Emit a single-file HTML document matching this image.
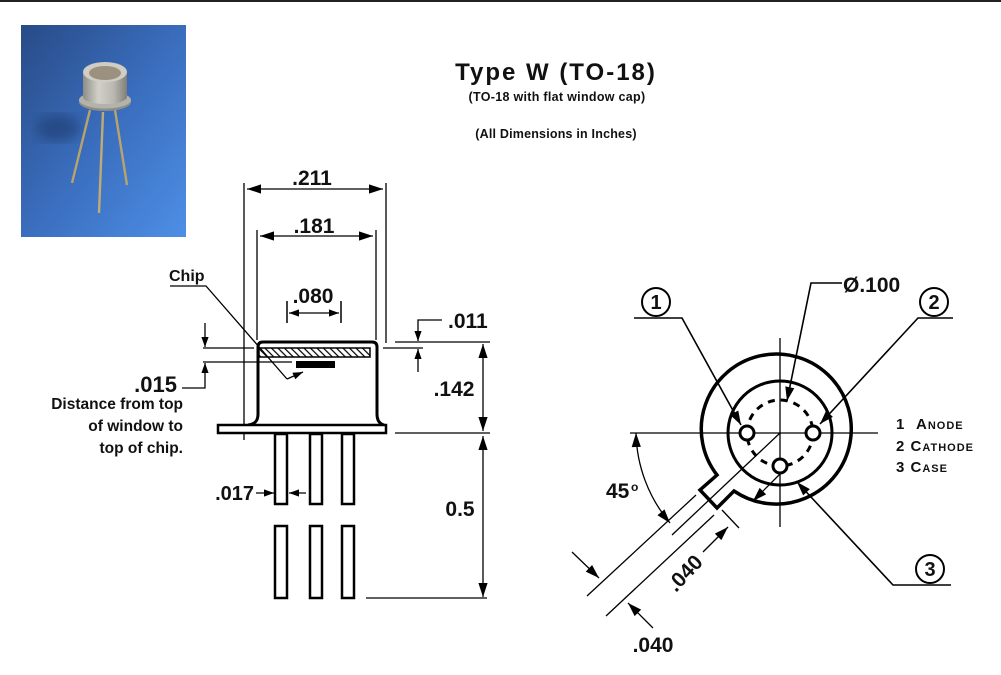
<!DOCTYPE html>
<html><head><meta charset="utf-8"><style>
html,body{margin:0;padding:0;background:#fff;}
svg{display:block;}
text{font-family:"Liberation Sans",sans-serif;font-weight:bold;fill:#111;}
</style></head><body>
<svg width="1001" height="675" viewBox="0 0 1001 675" xmlns="http://www.w3.org/2000/svg">
<defs>
<marker id="a" markerUnits="userSpaceOnUse" markerWidth="18" markerHeight="16" viewBox="-16 -8 18 16" refX="0" refY="0" orient="auto-start-reverse">
<path d="M0,0 L-14,-4.6 L-14,4.6 Z" fill="#000"/>
</marker>
<marker id="s" markerUnits="userSpaceOnUse" markerWidth="14" markerHeight="12" viewBox="-12 -6 14 12" refX="0" refY="0" orient="auto-start-reverse">
<path d="M0,0 L-10,-3.6 L-10,3.6 Z" fill="#000"/>
</marker>
<pattern id="h" patternUnits="userSpaceOnUse" width="4.6" height="4.6" patternTransform="rotate(-45)">
<line x1="1" y1="-1" x2="1" y2="6" stroke="#000" stroke-width="1.2"/>
</pattern>
<linearGradient id="bg" x1="0" y1="0" x2="1" y2="1">
<stop offset="0" stop-color="#284b86"/>
<stop offset="0.5" stop-color="#3a6dbd"/>
<stop offset="1" stop-color="#4d8fe6"/>
</linearGradient>
<linearGradient id="metal" x1="0" y1="0" x2="1" y2="0">
<stop offset="0" stop-color="#8d8c86"/>
<stop offset="0.35" stop-color="#d2d1c9"/>
<stop offset="0.7" stop-color="#b9b8b0"/>
<stop offset="1" stop-color="#7f7e78"/>
</linearGradient>
<filter id="blur"><feGaussianBlur stdDeviation="6"/></filter>
</defs>

<rect x="0" y="0" width="1001" height="2" fill="#222"/>

<!-- photo -->
<rect x="21" y="25" width="165" height="212" fill="url(#bg)"/>
<ellipse cx="58" cy="128" rx="22" ry="13" fill="#1d3a6c" opacity="0.6" filter="url(#blur)"/>
<line x1="90" y1="110" x2="72" y2="183" stroke="#b9a36a" stroke-width="2.4"/>
<line x1="103" y1="112" x2="99" y2="213" stroke="#c2ab70" stroke-width="2.4"/>
<line x1="115" y1="110" x2="127" y2="185" stroke="#b9a36a" stroke-width="2.4"/>
<ellipse cx="105" cy="102" rx="26" ry="9" fill="#8e8d87"/>
<ellipse cx="105" cy="100" rx="26" ry="8.5" fill="#b4b3ab"/>
<rect x="83" y="72" width="44" height="25" fill="url(#metal)"/>
<ellipse cx="105" cy="97" rx="22" ry="7" fill="url(#metal)"/>
<ellipse cx="105" cy="72" rx="22" ry="10" fill="#cfcdc4"/>
<ellipse cx="105" cy="73" rx="16" ry="7" fill="#9c917f"/>

<!-- titles -->
<text x="556" y="80" font-size="24" text-anchor="middle" letter-spacing="2">Type W (TO-18)</text>
<text x="557" y="101" font-size="12.5" text-anchor="middle" letter-spacing="0.3">(TO-18 with flat window cap)</text>
<text x="556" y="138" font-size="12.5" text-anchor="middle" letter-spacing="0.2">(All Dimensions in Inches)</text>

<!-- LEFT VIEW -->
<g stroke="#000" fill="none" stroke-width="1.3">
<line x1="244" y1="183" x2="244" y2="440"/>
<line x1="386" y1="183" x2="386" y2="343"/>
<line x1="257" y1="230" x2="257" y2="340"/>
<line x1="376" y1="230" x2="376" y2="340"/>
<line x1="247" y1="189" x2="383" y2="189" marker-start="url(#a)" marker-end="url(#a)"/>
<line x1="260" y1="236" x2="373" y2="236" marker-start="url(#a)" marker-end="url(#a)"/>
<line x1="287" y1="301" x2="287" y2="323" stroke-width="1.5"/>
<line x1="341" y1="301" x2="341" y2="323" stroke-width="1.5"/>
<line x1="289" y1="313" x2="339" y2="313" marker-start="url(#s)" marker-end="url(#s)"/>
<!-- chip leader -->
<polyline points="170,286 206,286 287,379"/>
<line x1="287" y1="379" x2="303" y2="372" marker-end="url(#s)"/>
<!-- .015 -->
<line x1="203" y1="348" x2="254" y2="348"/>
<line x1="203" y1="362" x2="292" y2="362"/>
<line x1="205" y1="323" x2="205" y2="347" marker-end="url(#s)"/>
<path d="M182,388 L205,388 L205,363" marker-end="url(#s)"/>
<!-- .011 -->
<line x1="395" y1="342" x2="490" y2="342"/>
<line x1="383" y1="348" x2="423" y2="348"/>
<path d="M442,320 L418,320 L418,341" marker-end="url(#s)"/>
<line x1="418" y1="372" x2="418" y2="349" marker-end="url(#s)"/>
<!-- .142 -->
<line x1="483" y1="344" x2="483" y2="431" marker-start="url(#a)" marker-end="url(#a)"/>
<line x1="395" y1="433" x2="490" y2="433"/>
<!-- 0.5 -->
<line x1="483" y1="436" x2="483" y2="597" marker-start="url(#a)" marker-end="url(#a)"/>
<line x1="366" y1="598" x2="487" y2="598"/>
<!-- .017 -->
<line x1="256" y1="493" x2="274" y2="493" marker-end="url(#s)"/>
<line x1="306" y1="493" x2="289" y2="493" marker-end="url(#s)"/>
</g>
<!-- cap -->
<path d="M248,425 C255,424 258,421 258,414 L258,347 Q258,342 263,342 L372,342 Q377,342 377,347 L377,414 C377,421 380,424 384,425" fill="none" stroke="#000" stroke-width="3"/>
<rect x="259" y="348" width="111" height="9" fill="url(#h)" stroke="#000" stroke-width="1.5"/>
<rect x="296" y="361" width="39" height="7" fill="#000"/>
<rect x="218" y="425" width="168" height="8" fill="#fff" stroke="#000" stroke-width="2.5"/>
<g fill="#fff" stroke="#000" stroke-width="2.5">
<rect x="275" y="434" width="12" height="70"/>
<rect x="310" y="434" width="12" height="70"/>
<rect x="342" y="434" width="12" height="70"/>
<rect x="275" y="526" width="12" height="72"/>
<rect x="310" y="526" width="12" height="72"/>
<rect x="342" y="526" width="12" height="72"/>
</g>
<text x="312" y="185" font-size="21" text-anchor="middle">.211</text>
<text x="314" y="233" font-size="21" text-anchor="middle">.181</text>
<text x="313" y="303" font-size="21" text-anchor="middle">.080</text>
<text x="169" y="281" font-size="16">Chip</text>
<text x="177" y="392" font-size="22" text-anchor="end">.015</text>
<text x="183" y="409" font-size="15.5" text-anchor="end">Distance from top</text>
<text x="183" y="431" font-size="15.5" text-anchor="end">of window to</text>
<text x="183" y="453" font-size="15.5" text-anchor="end">top of chip.</text>
<text x="448" y="328" font-size="21">.011</text>
<text x="454" y="396" font-size="21" text-anchor="middle">.142</text>
<text x="460" y="516" font-size="21" text-anchor="middle">0.5</text>
<text x="254" y="500" font-size="20" text-anchor="end">.017</text>

<!-- RIGHT VIEW -->
<g stroke="#000" fill="none" stroke-width="1.3">
<line x1="630" y1="433" x2="878" y2="433"/>
<line x1="780" y1="338" x2="780" y2="527"/>
<line x1="780" y1="433" x2="672" y2="535"/>
<line x1="696" y1="495" x2="587" y2="596"/>
<line x1="714" y1="515" x2="606" y2="616"/>
<line x1="722" y1="510" x2="739" y2="528"/>
<path d="M636,433 A144,144 0 0 0 670,523" marker-start="url(#a)" marker-end="url(#a)"/>
<line x1="572" y1="552" x2="599" y2="578" marker-end="url(#a)"/>
<line x1="653" y1="628" x2="628" y2="603" marker-end="url(#a)"/>
<line x1="703" y1="552" x2="728" y2="527" marker-end="url(#a)"/>
<line x1="780" y1="474" x2="753" y2="501" marker-end="url(#a)"/>
<path d="M634,318 L682,318 L741,425" marker-end="url(#a)" stroke-width="1.6"/>
<path d="M953,318 L918,318 L820,424" marker-end="url(#a)" stroke-width="1.6"/>
<path d="M842,283 L811,283 L787,401" marker-end="url(#a)" stroke-width="1.6"/>
<path d="M951,585 L893,585 L797,482" marker-end="url(#a)" stroke-width="1.6"/>
</g>
<path d="M734,491 A75,75 0 1 0 717,475 L700,490 L717,508 Z" fill="none" stroke="#000" stroke-width="3.5" stroke-linejoin="miter"/>
<circle cx="780" cy="433" r="52" fill="none" stroke="#000" stroke-width="3"/>
<circle cx="780" cy="433" r="33" fill="none" stroke="#000" stroke-width="3" stroke-dasharray="7 6"/>
<g fill="#fff" stroke="#000" stroke-width="3">
<circle cx="747" cy="433" r="7"/>
<circle cx="813" cy="433" r="7"/>
<circle cx="780" cy="466" r="7"/>
</g>
<g fill="#fff" stroke="#000" stroke-width="2">
<circle cx="656" cy="302" r="14"/>
<circle cx="934" cy="302" r="14"/>
<circle cx="930" cy="569" r="14"/>
</g>
<text x="656" y="309" font-size="20" text-anchor="middle">1</text>
<text x="934" y="309" font-size="20" text-anchor="middle">2</text>
<text x="930" y="576" font-size="20" text-anchor="middle">3</text>
<text x="843" y="292" font-size="21">Ø.100</text>
<text x="606" y="498" font-size="21">45</text>
<text x="631" y="491" font-size="12">o</text>
<text x="653" y="652" font-size="21" text-anchor="middle">.040</text>
<text x="0" y="0" font-size="21" text-anchor="middle" transform="translate(690,578) rotate(-47)">.040</text>

<!-- legend -->
<g font-size="15" fill="#222" style="font-variant:small-caps" letter-spacing="1">
<text x="896" y="429">1<tspan x="916">Anode</tspan></text>
<text x="896" y="451">2 Cathode</text>
<text x="896" y="472">3 Case</text>
</g>
</svg>
</body></html>
